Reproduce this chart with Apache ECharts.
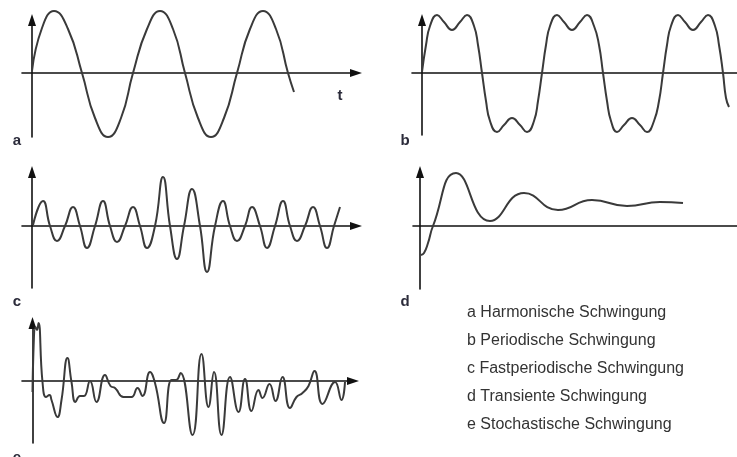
<!DOCTYPE html>
<html>
<head>
<meta charset="utf-8">
<script src="https://cdn.jsdelivr.net/npm/echarts@6/dist/echarts.min.js"></script>
<style>
html, body { margin: 0; padding: 0; background: #fff; }
#schwingung { width: 737px; height: 457px; }
</style>
</head>
<body>
<div id="schwingung"></div>
<script>
var harmonicWave = [
    [0, 2], [10, 45], [22, 62], [36, 44], [50, 0], [63, -45], [76, -64], [89, -45],
    [101, 0], [115, 44], [128, 62], [141, 44], [153, 0], [166, -45], [179, -64], [192, -45],
    [205, 0], [218, 44], [231, 62], [244, 44], [256, 0], [262, -19]
];
var periodicWave = [
    [0, 1], [4, 28], [8, 47], [15, 58], [22, 51], [30, 43], [38, 51], [45, 58], [52, 47], [56, 28],
    [60, 0], [64, -28], [68, -48], [75, -59], [82, -52], [90, -45], [98, -52], [105, -59], [112, -48], [116, -28],
    [120, 0], [124, 28], [128, 47], [135, 58], [142, 51], [150, 43], [158, 51], [165, 58], [172, 47], [177, 28],
    [181, 0], [185, -28], [189, -48], [195, -59], [202, -52], [210, -45], [218, -52], [225, -59], [232, -48], [237, -28],
    [241, 0], [245, 28], [249, 47], [256, 58], [263, 51], [271, 43], [279, 51], [286, 58], [293, 47], [297, 28],
    [301, 0], [304, -25], [307, -34]
];
var quasiPeriodicWave = [
    [1, 1], [11, 25], [18, 0], [25, -15], [33, 0], [41, 19], [48, 0], [55, -22], [63, 0], [71, 25],
    [78, 0], [85, -16], [93, 0], [101, 19], [108, 0], [115, -22], [123, 0], [131, 49], [138, 0], [145, -33],
    [152, 0], [160, 37], [168, 0], [175, -46], [183, 0], [191, 25], [198, 0], [205, -15], [213, 0], [220, 19],
    [228, 0], [235, -22], [243, 0], [251, 25], [258, 0], [265, -15], [273, 0], [281, 19], [288, 0], [295, -22],
    [302, 0], [308, 19]
];
var transientWave = [
    [1, -29], [4, -27], [8, -17], [13, 0], [36, 53], [70, 5], [104, 33], [138, 16], [172, 26], [207, 20], [240, 24], [263, 23]
];
var stochasticWave = [
    [0, -11], [3, 54], [4.5, 51], [6, 58], [10, -1], [13.5, -16], [17, -14], [19, -19], [25, -36], [29, -19],
    [35, 23], [39, -1], [43, -21], [47.5, -15], [51.5, -15], [57.5, 0], [64, -21], [72.5, 6], [78, -5], [82.5, -7],
    [91, -16], [99, -16], [105, -7], [110, -15], [117.5, 9], [122.5, -2], [131.5, -42], [139, 1], [143.5, 1], [148, 8],
    [160, -54], [169, 27], [176, -26], [181.5, 9], [189, -54], [197.5, 4], [206, -31], [212.5, 2], [219, -30], [226, -9],
    [230, -17], [237, -3], [243, -20], [250, 4], [257.5, -27], [264, -16], [270, -12], [276, -5], [282, 10], [290, -23],
    [302.5, -1], [309, -19], [312.5, -1]
];
var waves = [harmonicWave, periodicWave, quasiPeriodicWave, transientWave, stochasticWave];

var panelLetters = ['a', 'b', 'c', 'd', 'e'];
var timeLabel = 't';
var legendLines = [
    'a Harmonische Schwingung',
    'b Periodische Schwingung',
    'c Fastperiodische Schwingung',
    'd Transiente Schwingung',
    'e Stochastische Schwingung'
];

// pixel frame of every small plot: origin, x axis ends, y axis ends (arrow tips)
// b and d run off the right edge, so no arrow is shown there
var frames = [
    {ox: 32,   oy: 73,  xl: 22,  xr: 362, yt: 14,  yb: 137, xArrow: true},
    {ox: 422,  oy: 73,  xl: 412, xr: 743, yt: 14,  yb: 135, xArrow: false},
    {ox: 32,   oy: 226, xl: 22,  xr: 362, yt: 166, yb: 288, xArrow: true},
    {ox: 420,  oy: 226, xl: 413, xr: 743, yt: 166, yb: 289, xArrow: false},
    {ox: 32.5, oy: 381, xl: 22,  xr: 359, yt: 317, yb: 443, xArrow: true}
];
var letterPos = [[17, 141], [405, 141], [17, 302], [405, 302], [17, 458]];
var arrow = [8, 12];

var dom = document.getElementById('schwingung');
var myChart = echarts.init(dom);

function axisLine(withArrow) {
    return {
        onZero: true,
        symbol: ['none', withArrow ? 'triangle' : 'none'],
        symbolSize: arrow,
        lineStyle: {color: '#111', width: 1.6}
    };
}

var grids = [], xAxes = [], yAxes = [], series = [], graphics = [];
frames.forEach(function (f, i) {
    var xr = f.xr - arrow[1] / 2;   // arrow symbol sits centred on the line end
    var yt = f.yt + arrow[1] / 2;
    grids.push({left: f.xl, top: yt, width: xr - f.xl, height: f.yb - yt});
    xAxes.push({
        type: 'value', gridIndex: i, min: f.xl - f.ox, max: xr - f.ox,
        axisLine: axisLine(f.xArrow), axisTick: {show: false}, axisLabel: {show: false}, splitLine: {show: false}
    });
    yAxes.push({
        type: 'value', gridIndex: i, min: f.oy - f.yb, max: f.oy - yt,
        axisLine: axisLine(true), axisTick: {show: false}, axisLabel: {show: false}, splitLine: {show: false}
    });
    series.push({
        type: 'line',
        xAxisIndex: i,
        yAxisIndex: i,
        data: waves[i],
        smooth: 0.5,
        showSymbol: false,
        clip: false,
        silent: true,
        lineStyle: {color: '#3a3a3a', width: 2}
    });
    graphics.push({
        type: 'text', x: letterPos[i][0], y: letterPos[i][1],
        style: {text: panelLetters[i], fill: '#2b2b3a', font: 'bold 15px "Liberation Sans", Arial, sans-serif',
                align: 'center', verticalAlign: 'middle'}
    });
});

graphics.push({
    type: 'text', x: 340, y: 96,
    style: {text: timeLabel, fill: '#2b2b3a', font: 'bold 15px "Liberation Sans", Arial, sans-serif',
            align: 'center', verticalAlign: 'middle'}
});
legendLines.forEach(function (s, i) {
    graphics.push({
        type: 'text', x: 467, y: 313 + i * 28,
        style: {text: s, fill: '#333', font: '16px "Liberation Sans", Arial, sans-serif',
                align: 'left', verticalAlign: 'middle'}
    });
});

var option = {
    animation: false,
    backgroundColor: '#fff',
    grid: grids,
    xAxis: xAxes,
    yAxis: yAxes,
    series: series,
    graphic: graphics
};

if (option && typeof option === "object") {
    myChart.setOption(option, true);
}
</script>
</body>
</html>
